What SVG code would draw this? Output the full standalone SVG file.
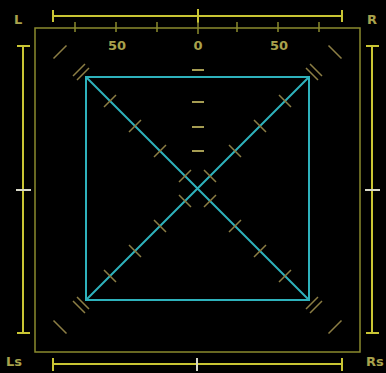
<svg xmlns="http://www.w3.org/2000/svg" width="386" height="373" viewBox="0 0 386 373">
<style>
.bar{stroke:#c9c534;stroke-width:2;fill:none}
.box{stroke:#8a8a2e;stroke-width:1.5;fill:none}
.tk{stroke:#8a8a2e;stroke-width:1.5}
.wt{stroke:#d8d8c8;stroke-width:2}
.sq{stroke:#2eb2bc;stroke-width:2;fill:none}
.dg{stroke:#8c7e44;stroke-width:1.5}
.ds{stroke:#a59c52;stroke-width:2}
.lb{font-family:"DejaVu Sans",sans-serif;font-weight:bold;font-size:13px;fill:#a8a24c}
.sc{font-family:"DejaVu Sans",sans-serif;font-weight:bold;font-size:13px;fill:#a8a24c;text-anchor:middle}
</style>
<rect width="386" height="373" fill="#000"/>
<g id="outer-bars">
<path class="bar" d="M53,16H342M53,10V22M342,10V22"/>
<path class="bar" d="M198,9V23"/>
<path class="bar" d="M53,364H342M53,358V371M342,358V371"/>
<path class="wt" d="M197,358V371"/>
<path class="bar" d="M23,46V333M17,46H30M17,333H30"/>
<path class="wt" d="M16,190H31"/>
<path class="bar" d="M372,46V333M366,46H379M366,333H379"/>
<path class="wt" d="M365,190H380"/>
</g>
<g id="inner-box">
<rect class="box" x="35" y="28" width="325" height="324"/>
<path class="tk" d="M75,22V32M116,22V32M157,22V32M198,22V34M237,22V32M278,22V32M319,22V32"/>
</g>
<g id="labels">
<text class="lb" x="14" y="24">L</text>
<text class="lb" x="367" y="24">R</text>
<text class="lb" x="6" y="366">Ls</text>
<text class="lb" x="366" y="366">Rs</text>
<text class="sc" x="117" y="50">50</text>
<text class="sc" x="198" y="50">0</text>
<text class="sc" x="279" y="50">50</text>
</g>
<g id="center-scale">
<path class="ds" d="M192,70H204M192,77H204M192,102H204M192,127H204M192,151H204"/>
</g>
<g id="square">
<rect class="sq" x="86" y="77" width="223" height="223"/>
<path class="sq" d="M86,77L309,300M309,77L86,300"/>
</g>
<g id="diagonal-ticks">
<path class="dg" d="M104,107L116,95M129,132L141,120M154,157L166,145M179,182L191,170M204,207L216,195M229,232L241,220M254,257L266,245M279,282L291,270"/>
<path class="dg" d="M104,270L116,282M129,245L141,257M154,220L166,232M179,195L191,207M204,170L216,182M229,145L241,157M254,120L266,132M279,95L291,107"/>
<path class="dg" d="M77,80L89,68M73,76L85,64M53.5,58.5L66.5,45.5"/>
<path class="dg" d="M306,68L318,80M310,64L322,76M328.5,45.5L341.5,58.5"/>
<path class="dg" d="M77,297L89,309M73,301L85,313M53.5,320.5L66.5,333.5"/>
<path class="dg" d="M306,309L318,297M310,313L322,301M328.5,333.5L341.5,320.5"/>
</g>
</svg>
